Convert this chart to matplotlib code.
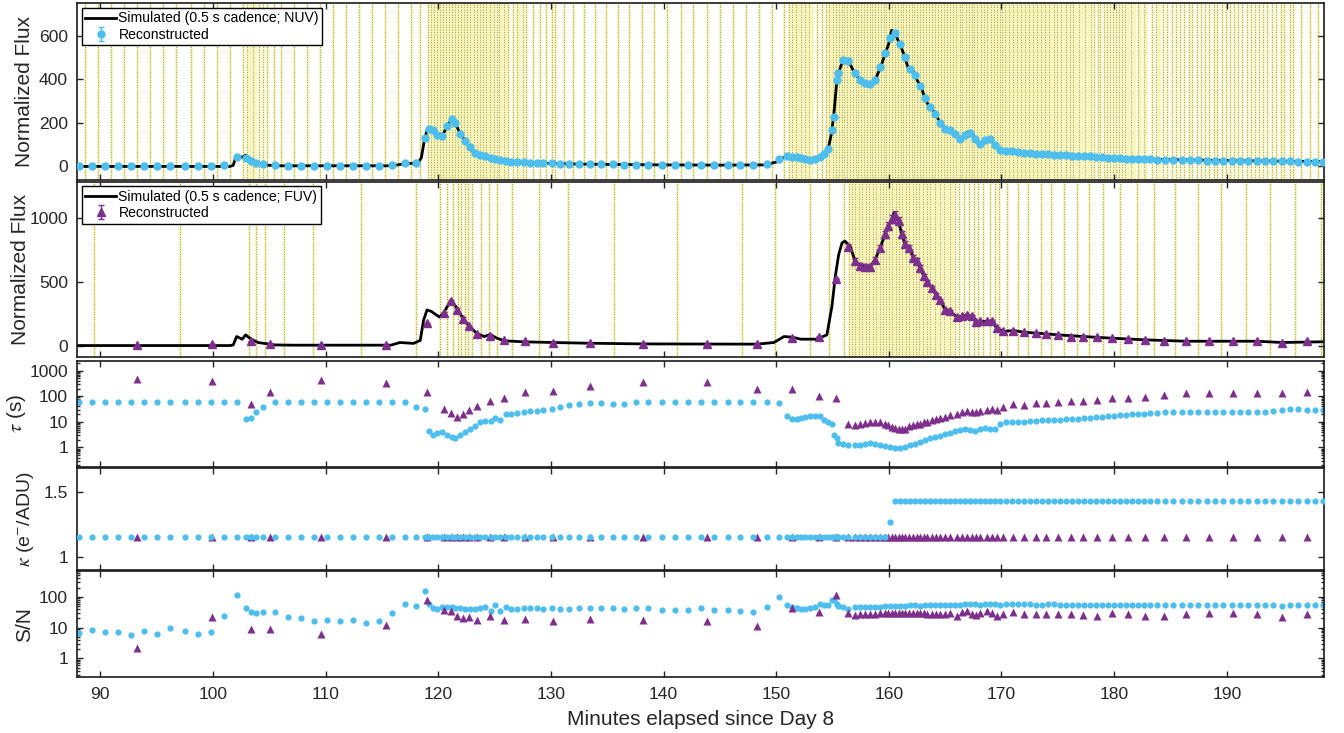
import numpy as np
import matplotlib
matplotlib.use("Agg")
import matplotlib.pyplot as plt
from matplotlib.ticker import LogLocator, NullFormatter, FixedLocator

plt.rcParams['font.family'] = ['Liberation Sans', 'DejaVu Sans']
plt.rcParams['mathtext.fontset'] = 'stix'

# ---- NUV reconstruction (minutes, normalized flux, tau [s], kappa, S/N)
nuv_t = [88.14, 89.29, 90.44, 91.60, 92.75, 93.91, 95.06, 96.21, 97.54, 98.70,
         99.85, 101.01, 102.16, 102.96, 103.40, 103.85, 104.47, 105.53, 106.69, 107.84,
         108.99, 110.15, 111.30, 112.45, 113.61, 114.76, 115.92, 117.07, 118.05, 118.85,
         119.22, 119.49, 119.88, 120.32, 120.77, 121.21, 121.51, 121.95, 122.40, 122.84,
         123.28, 123.73, 124.17, 124.68, 125.06, 125.50, 126.01, 126.48, 126.98, 127.57,
         128.16, 128.76, 129.34, 130.08, 130.83, 131.62, 132.51, 133.49, 134.47, 135.50,
         136.53, 137.57, 138.66, 139.85, 141.03, 142.16, 143.34, 144.50, 145.68, 146.80,
         147.98, 149.17, 150.26, 151.00, 151.44, 151.83, 152.19, 152.57, 153.02, 153.46,
         153.90, 154.28, 154.64, 154.99, 155.17, 155.38, 155.52, 155.97, 156.41,
         157.01, 157.45, 157.90, 158.34, 158.78, 159.23, 159.67, 160.12, 160.56, 161.00,
         161.45, 161.89, 162.34, 162.78, 163.22, 163.67, 164.11, 164.55, 165.00, 165.44,
         165.89, 166.33, 166.77, 167.22, 167.66, 168.11, 168.55, 168.99, 169.44, 169.88,
         170.41, 170.94, 171.48, 172.01, 172.54, 173.08, 173.61, 174.14, 174.67, 175.21,
         175.74, 176.27, 176.80, 177.34, 177.87, 178.40, 178.93, 179.47, 180.00, 180.53,
         181.06, 181.60, 182.13, 182.66, 183.19, 183.79, 184.52, 185.26, 186.00, 186.74,
         187.48, 188.22, 188.96, 189.70, 190.44, 191.18, 191.92, 192.66, 193.40, 194.14,
         194.88, 195.62, 196.36, 197.10, 197.84, 198.52]
nuv_flux = [0, 0, 0, 0, 0, 0, 0, 0, 0, 0,
            0, 5, 42, 38, 25, 15, 10, 6, 4, 3,
            3, 3, 3, 3, 3, 3, 6, 14, 15, 130,
            172, 168, 145, 140, 185, 218, 200, 150, 118, 87,
            62, 51, 50, 38, 33, 28, 25, 21, 20, 20,
            17, 17, 15, 15, 12, 12, 11, 11, 10, 9,
            8, 8, 8, 7, 7, 6, 6, 6, 6, 6,
            6, 10, 35, 47, 45, 43, 40, 35, 30, 32,
            43, 55, 80, 165, 228, 397, 430, 489, 485,
            428, 397, 384, 378, 397, 455, 520, 590, 612, 560,
            500, 445, 420, 370, 312, 275, 242, 197, 174, 165,
            150, 128, 145, 155, 125, 105, 120, 128, 97, 74,
            71, 69, 66, 63, 61, 59, 57, 55, 54, 53,
            51, 49, 48, 47, 46, 44, 42, 40, 38, 37,
            36, 35, 34, 33, 32, 31, 30, 29, 28, 28,
            28, 27, 27, 27, 26, 26, 25, 25, 24, 24,
            23, 23, 22, 22, 22, 22]
nuv_tau = [62, 62, 62, 62, 62, 62, 62, 62, 62, 62,
           62, 62, 62, 12.7, 14.3, 23.8, 39, 62, 62, 62,
           62, 62, 62, 62, 62, 62, 62, 62, 37, 31,
           4.2, 3.0, 3.6, 4.0, 3.1, 2.5, 2.3, 3.1, 3.9, 5.3,
           7.2, 9.7, 10.6, 10.4, 14.7, 12, 19.9, 19.9, 21.7, 23.8,
           26.8, 27.5, 29, 33, 37, 44.6, 48, 53, 53, 52,
           52, 58, 60, 60, 60, 60, 60, 60, 60, 60,
           60, 60, 53, 17.1, 12.7, 13.4, 13.8, 15.5, 17.6, 17.6,
           16.5, 12, 9.6, 7.9, 3.1, 2.4, 1.5, 1.35, 1.27,
           1.2, 1.3, 1.4, 1.48, 1.4, 1.2, 1.1, 1.0, 0.95, 0.97,
           1.05, 1.2, 1.4, 1.6, 1.9, 2.25, 2.55, 2.85, 3.5, 3.8,
           4.2, 4.6, 5.3, 4.8, 4.3, 5.3, 6.0, 5.5, 5.2, 8.1,
           10, 10, 10, 10.3, 10.6, 11, 11.3, 11.6, 12, 12.3,
           12.7, 13, 13.5, 14, 14.5, 15.2, 16, 16.7, 17.4, 18,
           19, 19.9, 20.5, 21.2, 22.3, 23, 23.8, 24.5, 25.2, 25.2,
           25.2, 24.5, 23.8, 23.8, 23.8, 23.8, 23.8, 23.8, 25, 27,
           29, 31, 32, 30, 29, 29]
nuv_snr = [6.7, 8.6, 7.0, 7.0, 5.8, 8.0, 6.4, 9.8, 8.0, 6.4,
           7.2, 24.6, 116, 42.5, 31.5, 30, 31.5, 32, 22.3, 21,
           16, 17.4, 16.5, 17.7, 14.2, 16.5, 30, 60, 52, 157,
           59, 44, 42, 49, 49, 47, 44, 43, 42, 41,
           42, 44, 47, 36, 53, 34, 46, 42, 42, 43,
           44, 44, 42, 43, 42, 42, 43, 45, 45, 43,
           42, 43, 44, 39, 37, 39, 44, 38, 38, 36,
           33, 46, 97, 56, 46, 44, 42, 42, 44, 49,
           57, 53, 53, 81, 77, 59, 52, 46, 42,
           48, 47, 47, 48, 49, 49, 50, 50, 51, 52,
           52, 53, 53, 52, 53, 54, 54, 53, 54, 55,
           54, 56, 57, 58, 57, 55, 58, 59, 57, 56,
           59, 58, 57, 57, 57, 56, 56, 57, 57, 56,
           56, 56, 56, 55, 56, 56, 56, 55, 55, 55,
           56, 55, 55, 55, 54, 54, 55, 55, 54, 54,
           54, 54, 54, 54, 54, 54, 53, 53, 53, 53,
           52, 53, 55, 53, 53, 53]
# gain: low state until the switch near 160 min, then the high state
nuv_kappa = [1.15] * 96 + [1.27] + [1.43] * 68

# ---- FUV reconstruction
fuv_t = [93.25, 99.91, 103.37, 105.09, 109.59, 115.38, 118.99, 120.47, 121.15, 121.65,
         122.18, 122.77, 123.48, 124.61, 125.88, 127.72, 130.17, 133.49, 138.22, 143.85,
         148.28, 151.42, 153.82, 155.32, 156.40,
         157.01, 157.45, 157.90, 158.34, 158.78, 159.23, 159.67, 159.97, 160.26, 160.56,
         160.86, 161.15, 161.45, 161.83, 162.19, 162.48, 162.78, 163.13, 163.43, 163.81,
         164.20, 164.55, 165.00, 165.44, 166.03, 166.48, 166.92, 167.37, 167.75, 168.11,
         168.70, 169.14, 169.58, 170.18, 171.06, 172.01, 173.05, 173.96, 175.06, 176.15,
         177.28, 178.46, 179.79, 181.27, 182.75, 184.46, 186.39, 188.43, 190.59, 192.72,
         194.88, 197.16]
fuv_flux = [2, 12, 32, 11, 5, 4, 177, 256, 347, 282,
            211, 150, 90, 77, 40, 32, 24, 18, 13, 13,
            13, 58, 71, 526, 775,
            663, 629, 619, 619, 676, 768, 874, 940, 997, 1023,
            979, 874, 795, 768, 690, 663, 611, 545, 497, 453,
            400, 355, 282, 268, 224, 229, 242, 229, 182, 190,
            190, 195, 137, 111, 118, 105, 98, 92, 84, 71,
            71, 66, 58, 53, 45, 37, 34, 34, 34, 34,
            24, 32]
fuv_tau = [458, 394, 49, 151, 431, 318, 143, 32, 21.7, 16,
           19.9, 29, 42, 67.6, 83, 143, 165, 250, 361, 370,
           192, 192, 100, 83, 8,
           7.8, 8.4, 9.0, 9.7, 9.7, 9.7, 8.5, 7.5, 6.5, 5.6,
           5.3, 5.2, 5.5, 6.8, 7.5, 8.0, 8.4, 9.5, 10.3, 11.5,
           12.5, 13.9, 16, 18.7, 20.4, 24, 26.8, 25, 23.8, 27,
           29, 31, 29, 37, 50, 45.5, 53, 53, 58, 63,
           63, 70, 83, 87, 96, 110, 130, 130, 137, 130,
           137, 145]
fuv_snr = [2.2, 23, 9.3, 9.3, 6.4, 12.5, 77, 38.6, 35.8, 24.6,
           20.7, 21.7, 18.2, 24.6, 17.3, 19.6, 16, 19.2, 17.3, 17,
           11, 44, 32.4, 113, 30,
           26, 27, 28, 28, 29, 30, 31, 31, 31, 31,
           31, 31, 31, 30, 31, 30, 30, 30, 29, 29,
           28, 29, 27, 30, 25, 33, 34, 28, 26, 30,
           34, 30, 24, 28, 32, 27, 27, 27, 29, 28,
           26, 25, 30, 28, 25, 25, 28, 30, 30, 27,
           23, 28]
fuv_kappa = [1.15] * len(fuv_t)

# ---- simulated light curves (0.5 s cadence), traced vertices
sim_nuv_t = [88, 101.5, 101.8, 102.0, 102.3, 102.6, 102.9, 103.2, 103.6, 104.2,
             105, 106, 116, 116.5, 117, 118.2, 118.5, 118.8, 119.1, 119.4,
             119.8, 120.1, 120.5, 120.9, 121.2, 121.5, 121.9, 122.3, 122.7, 123.1,
             123.6, 124.1, 124.5, 124.9, 125.5, 126.5, 128, 130, 132, 135,
             140, 145, 149, 150, 150.6, 151.2, 152, 153, 153.6, 154.2,
             154.6, 154.9, 155.1, 155.4, 155.7, 156.0, 156.3, 156.6, 157.0, 157.5,
             158.0, 158.5, 158.8, 159.1, 159.4, 159.7, 160.0, 160.25, 160.5, 160.9,
             161.3, 161.7, 162.2, 162.5, 162.9, 163.2, 163.5, 163.8, 164.2, 164.6,
             165.0, 165.4, 165.9, 166.3, 166.6, 167.0, 167.4, 167.8, 168.1, 168.5,
             169.0, 169.4, 169.9, 170.5, 171.4, 173, 175, 178, 181, 185,
             190, 195, 198.7]
sim_nuv_f = [0, 0, 5, 40, 45, 42, 52, 40, 22, 10,
             5, 3, 3, 8, 13, 15, 40, 130, 180, 175,
             150, 135, 155, 195, 215, 200, 155, 125, 95, 68,
             52, 50, 45, 35, 28, 22, 17, 14, 11, 9,
             7, 6, 7, 20, 40, 45, 40, 33, 38, 50,
             75, 150, 230, 400, 455, 490, 492, 465, 425, 395,
             380, 378, 397, 435, 475, 520, 565, 625, 615, 570,
             520, 455, 432, 397, 362, 312, 282, 266, 236, 196,
             174, 166, 150, 128, 135, 158, 150, 112, 105, 120,
             128, 97, 74, 71, 66, 59, 53, 45, 37, 31,
             27, 24, 22]
sim_fuv_t = [88, 101.5, 101.8, 102.1, 102.6, 102.9, 103.4, 104.0, 105.5, 107,
             115.8, 116.6, 117.8, 118.4, 118.7, 119.0, 119.4, 120.1, 120.47, 121.15,
             121.65, 122.18, 122.77, 123.48, 124.1, 124.6, 125.2, 125.9, 127.7, 130.2,
             133.5, 138.2, 148.3, 149.8, 150.7, 151.4, 152.2, 153.6, 154.5, 154.95,
             155.25, 155.55, 155.85, 156.1, 156.4, 156.57, 157.01, 157.45, 157.9, 158.34,
             158.78, 159.23, 159.67, 159.97, 160.26, 160.45, 160.56, 160.86, 161.15, 161.45,
             161.83, 162.19, 162.48, 162.78, 163.13, 163.43, 163.81, 164.2, 164.55, 165.0,
             165.44, 166.03, 166.48, 166.92, 167.37, 167.75, 168.11, 168.7, 169.14, 169.58,
             170.18, 171.06, 172.01, 173.05, 175.06, 177.28, 179.79, 182.75, 186.39, 192.72,
             194.88, 198.7]
sim_fuv_f = [0, 0, 5, 71, 50, 84, 50, 24, 5, 3,
             3, 24, 17, 40, 200, 280, 268, 224, 256, 360,
             295, 216, 150, 92, 71, 88, 58, 37, 29, 24,
             18, 13, 11, 24, 71, 66, 50, 50, 84, 308,
             545, 716, 808, 821, 795, 781, 663, 629, 619, 619,
             676, 768, 874, 940, 997, 1040, 1023, 979, 874, 795,
             768, 690, 663, 611, 545, 497, 453, 400, 355, 282,
             268, 224, 229, 242, 229, 182, 190, 190, 195, 137,
             111, 118, 105, 98, 84, 71, 58, 45, 34, 34,
             24, 30]

cyan = '#4dbeee'
purple = '#7e2f8e'
stripe = '#f8f4b4'
ink = '#262626'

nuv_t = np.array(nuv_t); fuv_t = np.array(fuv_t)
nuv_flux = np.array(nuv_flux, float); fuv_flux = np.array(fuv_flux, float)
nuv_tau = np.array(nuv_tau); fuv_tau = np.array(fuv_tau)
nuv_snr = np.array(nuv_snr); fuv_snr = np.array(fuv_snr)


def frame_edges(t, tau):
    # contiguous exposures of length tau (s) laid end to end between samples
    edges = [t[0] - tau[0] / 120.0]
    for i in range(len(t) - 1):
        step = tau[i] / 60.0
        e = t[i] + step / 2
        while e < t[i + 1]:
            edges.append(e)
            e += step
    edges.append(t[-1] + tau[-1] / 120.0)
    return np.array(edges)


def thin(edges, gap):
    keep = [edges[0]]
    for e in edges[1:]:
        if e - keep[-1] >= gap:
            keep.append(e)
    return np.array(keep)


nuv_edges = frame_edges(nuv_t, nuv_tau)
fuv_edges = frame_edges(fuv_t, fuv_tau)

fig = plt.figure(figsize=(13.44, 7.33), dpi=100)
W, H = 1344.0, 733.0
x0, x1 = 77.0, 1324.3
rows = [(3, 179.5), (181.5, 357), (360.5, 466.5), (468, 570), (571, 677)]
axes = [fig.add_axes([x0 / W, 1 - b / H, (x1 - x0) / W, (b - t) / H]) for t, b in rows]
ax1, ax2, ax3, ax4, ax5 = axes

for ax in axes:
    ax.set_xlim(87.93, 198.66)
    ax.set_xticks(np.arange(90, 200, 10))
    ax.tick_params(which='both', direction='in', top=True, right=True,
                   labelsize=12.6, colors=ink, labelcolor=ink, width=1.0)
    ax.tick_params(which='major', length=4.5)
    ax.tick_params(which='minor', length=2.5)
    ax.tick_params(axis='x', pad=7)
    ax.tick_params(axis='y', pad=6.5)
    for s in ax.spines.values():
        s.set_linewidth(1.2)
        s.set_color('#1a1a1a')
    if ax is not ax5:
        ax.tick_params(labelbottom=False)


def frame_lines(ax, edges):
    tr = ax.get_xaxis_transform()
    ax.vlines(edges, 0, 1, transform=tr, colors=stripe, linewidth=1.8, zorder=0)
    ax.vlines(thin(edges, 0.24), 0, 1, transform=tr, colors='k', linewidth=0.5,
              linestyles=(0, (1, 2.6)), alpha=0.7, zorder=0.5)


leg_kw = dict(loc='upper left', fontsize=10.1, frameon=True, fancybox=False,
              edgecolor='k', framealpha=1, handlelength=2.2, handletextpad=0.15,
              borderpad=0.25, labelspacing=0.15, borderaxespad=0.35)

# panel 1: NUV
frame_lines(ax1, nuv_edges)
ln1, = ax1.plot(sim_nuv_t, sim_nuv_f, color='k', lw=2, zorder=2)
eb1 = ax1.errorbar(nuv_t, nuv_flux, yerr=nuv_flux / nuv_snr, fmt='o', ms=5,
                   color=cyan, ecolor=cyan, elinewidth=1, capsize=2, zorder=3)
ax1.set_ylim(-60, 750)
ax1.set_yticks([0, 200, 400, 600])
ax1.set_ylabel('Normalized Flux', fontsize=15, color=ink)
ax1.legend([ln1, eb1], ['Simulated (0.5 s cadence; NUV)', 'Reconstructed'],
           **leg_kw).get_frame().set_linewidth(1.0)

# panel 2: FUV
frame_lines(ax2, fuv_edges)
ln2, = ax2.plot(sim_fuv_t, sim_fuv_f, color='k', lw=2, zorder=2)
eb2 = ax2.errorbar(fuv_t, fuv_flux, yerr=fuv_flux / fuv_snr, fmt='^', ms=6,
                   color=purple, ecolor=purple, elinewidth=1, capsize=2, zorder=3)
ax2.set_ylim(-90, 1290)
ax2.set_yticks([0, 500, 1000])
ax2.set_ylabel('Normalized Flux', fontsize=15, color=ink)
ax2.legend([ln2, eb2], ['Simulated (0.5 s cadence; FUV)', 'Reconstructed'],
           **leg_kw).get_frame().set_linewidth(1.0)

# panel 3: tau
ax3.plot(nuv_t, nuv_tau, 'o', ms=4.5, color=cyan, mec='none')
ax3.plot(fuv_t, fuv_tau, '^', ms=6, color=purple, mec='none')
ax3.set_yscale('log')
ax3.set_ylim(0.18, 2500)
ax3.yaxis.set_major_locator(FixedLocator([1, 10, 100, 1000]))
ax3.set_yticklabels(['1', '10', '100', '1000'])
ax3.yaxis.set_minor_locator(LogLocator(base=10, subs=np.arange(2, 10), numticks=20))
ax3.yaxis.set_minor_formatter(NullFormatter())
ax3.set_ylabel(r'$\tau$ (s)', fontsize=15, color=ink)

# panel 4: kappa
ax4.plot(nuv_t, nuv_kappa, 'o', ms=4.5, color=cyan, mec='none', zorder=3)
ax4.plot(fuv_t, fuv_kappa, '^', ms=6, color=purple, mec='none', zorder=2)
ax4.set_ylim(0.9, 1.68)
ax4.set_yticks([1, 1.5])
ax4.set_yticklabels(['1', '1.5'])
ax4.set_ylabel(r'$\kappa$ (e$^{-}$/ADU)', fontsize=14, color=ink)

# panel 5: S/N
ax5.plot(nuv_t, nuv_snr, 'o', ms=4.5, color=cyan, mec='none')
ax5.plot(fuv_t, fuv_snr, '^', ms=6, color=purple, mec='none')
ax5.set_yscale('log')
ax5.set_ylim(0.25, 700)
ax5.yaxis.set_major_locator(FixedLocator([1, 10, 100]))
ax5.set_yticklabels(['1', '10', '100'])
ax5.yaxis.set_minor_locator(LogLocator(base=10, subs=np.arange(2, 10), numticks=20))
ax5.yaxis.set_minor_formatter(NullFormatter())
ax5.set_ylabel('S/N', fontsize=15, color=ink)
ax5.set_xlabel('Minutes elapsed since Day 8', fontsize=15, color=ink, labelpad=6)

# y-label anchors (right edge of the rotated text), in axes fraction
span = x1 - x0
ax1.yaxis.set_label_coords((34 - x0) / span, 0.5)
ax2.yaxis.set_label_coords((30 - x0) / span, 0.5)
ax3.yaxis.set_label_coords((28 - x0) / span, 0.5)
ax4.yaxis.set_label_coords((36 - x0) / span, 0.5)
ax5.yaxis.set_label_coords((34 - x0) / span, 0.5)

fig.savefig('out.png', dpi=100)
